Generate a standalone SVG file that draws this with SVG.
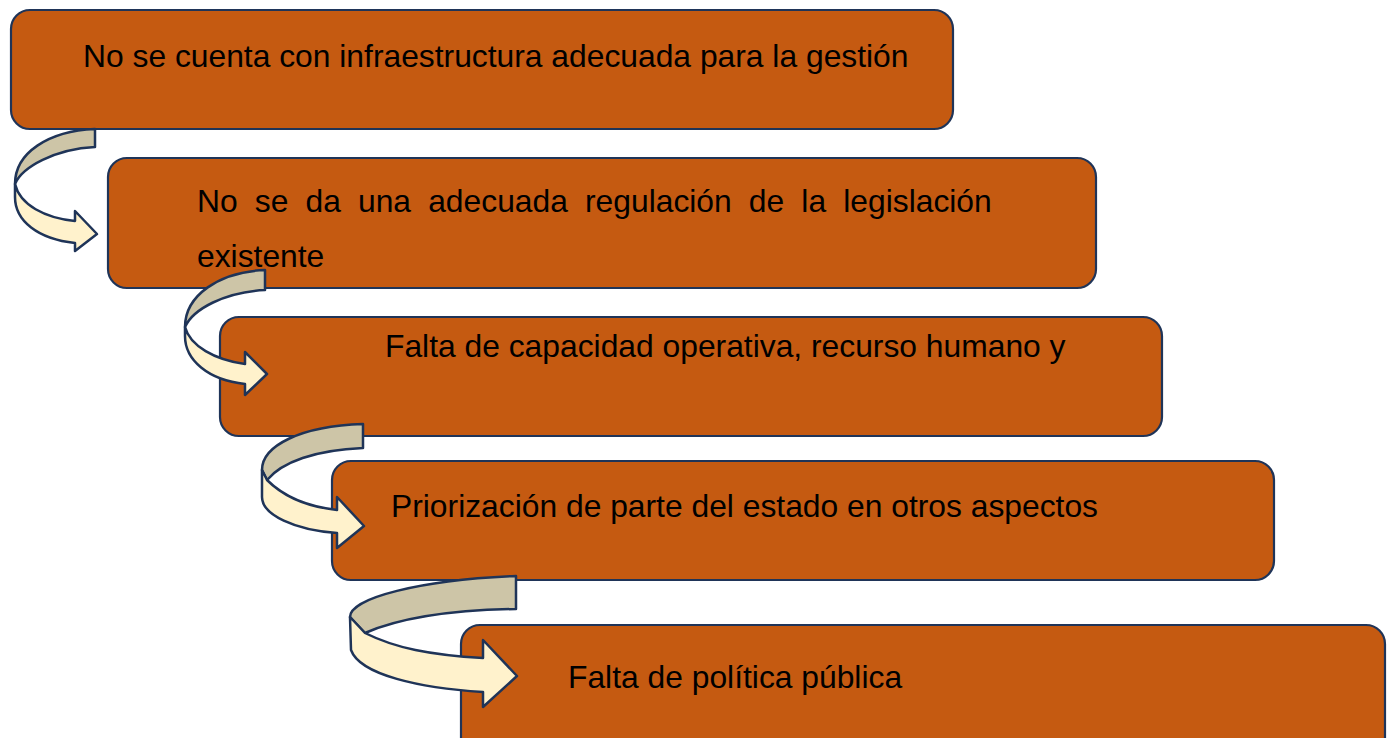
<svg xmlns="http://www.w3.org/2000/svg" width="1396" height="738" viewBox="0 0 1396 738">
<style>
.box{fill:#c55a11;stroke:#1f3458;stroke-width:2.2}
.t{font-family:"Liberation Sans",Arial,sans-serif;font-size:31.8px;fill:#000}
.tan{fill:#cdc5a7;stroke:#1f3458;stroke-width:2.5;stroke-linejoin:round}
.cream{fill:#fff2cc;stroke:#1f3458;stroke-width:2.5;stroke-linejoin:round}
</style>
<rect width="1396" height="738" fill="#fff"/>
<g id="node1">
<rect class="box" x="11" y="10" width="942" height="119" rx="19"/>
<text class="t" x="83" y="67">No se cuenta con infraestructura adecuada para la gestión</text>
</g>
<g id="node2">
<rect class="box" x="108" y="158" width="988" height="130" rx="19"/>
<text class="t" x="197" y="212" word-spacing="8.3">No se da una adecuada regulación de la legislación</text>
<text class="t" x="197" y="267">existente</text>
</g>
<g id="node3">
<rect class="box" x="220" y="317" width="942" height="119" rx="19"/>
<text class="t" x="385" y="357">Falta de capacidad operativa, recurso humano y</text>
</g>
<g id="node4">
<rect class="box" x="332" y="461" width="942" height="119" rx="19"/>
<text class="t" x="391" y="517">Priorización de parte del estado en otros aspectos</text>
</g>
<g id="node5">
<rect class="box" x="461" y="625" width="924" height="140" rx="19"/>
<text class="t" x="568" y="688">Falta de política pública</text>
</g>
<g id="connectors">
<g id="arrow1">
<path class="tan" d="M95,129 C48,131 15,153 15,184 C22,167 55,149 95,147 Z"/>
<path class="cream" d="M15,184 C20,205 45,218 75,221 L75,211 L97,234 L75,251 L75,243 C38,239 15,221 15,197 Z"/>
</g>
<g id="arrow2">
<path class="tan" d="M265,270 C218,272 185,296 185,327 C193,309 225,292 265,290 Z"/>
<path class="cream" d="M185,327 C190,346 215,360 245,364 L245,352 L267,374 L245,395 L245,384 C208,380 185,360 185,336 Z"/>
</g>
<g id="arrow3">
<path class="tan" d="M363,424 C300,426 262,446 262,470 L267,480 C282,462 315,450 363,448 Z"/>
<path class="cream" d="M262,470 L267,480 C285,498 310,507 337,510 L337,497 L364,526 L337,548 L337,533 C295,530 262,515 262,497 Z"/>
</g>
<g id="arrow4">
<path class="tan" d="M516,576 C420,580 350,598 350,617 L365,633 C400,618 450,610 516,609 Z"/>
<path class="cream" d="M350,617 L365,633 C395,648 430,655 483,658 L483,640 L517,676 L483,707 L483,692 C420,688 360,675 351,650 Z"/>
</g>
</g>
</svg>
